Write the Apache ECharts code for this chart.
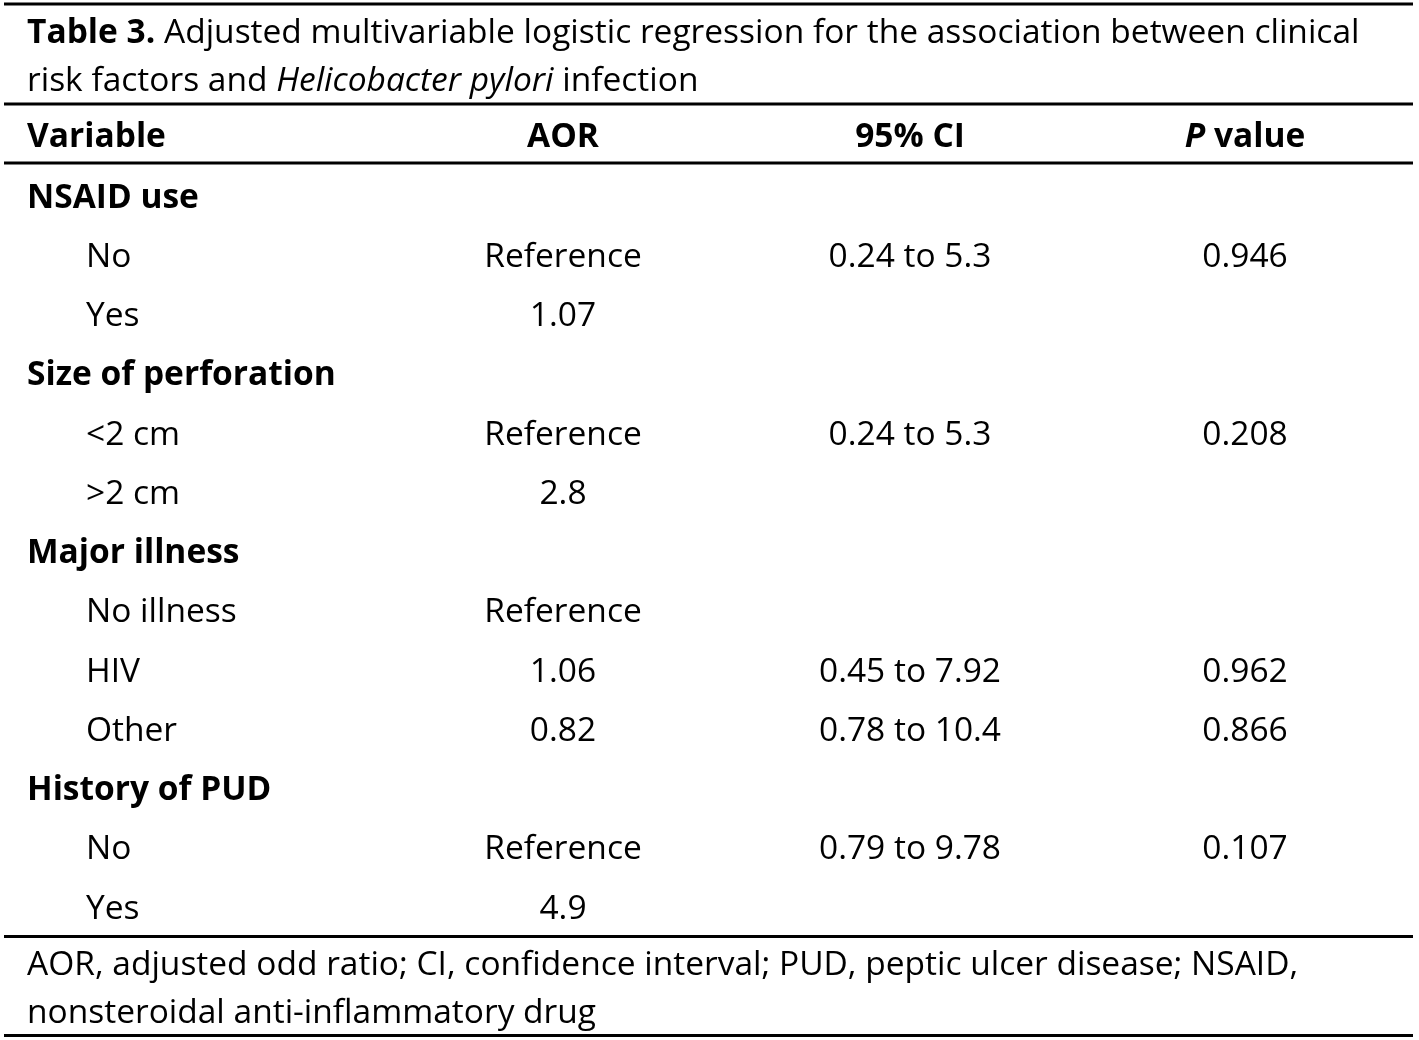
<!DOCTYPE html>
<html>
<head>
<meta charset="utf-8">
<script src="https://cdn.jsdelivr.net/npm/echarts@6/dist/echarts.min.js"></script>
<style>
html, body { margin: 0; padding: 0; background: #fff; }
#table3 { width: 1419px; height: 1040px; }
</style>
</head>
<body>
<div id="table3"></div>
<script>
var titleLines = [
    '{b|Table 3.} Adjusted multivariable logistic regression for the association between clinical',
    'risk factors and {i|Helicobacter pylori} infection'
];
var headers = ['Variable', 'AOR', '95% CI', '{bi|P} value'];
var groups = ['NSAID use', 'Size of perforation', 'Major illness', 'History of PUD'];
var levels = [['No', 'Yes'], ['<2 cm', '>2 cm'], ['No illness', 'HIV', 'Other'], ['No', 'Yes']];
var aorValues = [['Reference', '1.07'], ['Reference', '2.8'], ['Reference', '1.06', '0.82'], ['Reference', '4.9']];
var ciValues = [['0.24 to 5.3', ''], ['0.24 to 5.3', ''], ['', '0.45 to 7.92', '0.78 to 10.4'], ['0.79 to 9.78', '']];
var pValues = [['0.946', ''], ['0.208', ''], ['', '0.962', '0.866'], ['0.107', '']];
var footnote = [
    'AOR, adjusted odd ratio; CI, confidence interval; PUD, peptic ulcer disease; NSAID,',
    'nonsteroidal anti-inflammatory drug'
];

function initTable() {
    var myChart = echarts.init(document.getElementById('table3'));
    var font = '"Open Sans", sans-serif';
    var size = 33.5;
    var rich = {
        b: {fontWeight: 'bold', fontSize: size, fontFamily: font, fill: '#000'},
        i: {fontStyle: 'italic', fontSize: size, fontFamily: font, fill: '#000'},
        bi: {fontStyle: 'italic', fontWeight: 'bold', fontSize: size, fontFamily: font, fill: '#000'}
    };
    var colX = [27, 563, 910, 1245];
    var indentX = 86;
    var dy = 3; // nudge: Open Sans sits a bit high with middle alignment
    var rowTop = 195 + dy, rowStep = 59.25;
    var els = [];

    function text(str, x, y, align, bold) {
        els.push({
            type: 'text',
            x: x, y: y,
            style: {
                text: str,
                fontFamily: font,
                fontSize: size,
                fontWeight: bold ? 'bold' : 'normal',
                fill: '#000',
                align: align || 'left',
                verticalAlign: 'middle',
                rich: rich
            }
        });
    }
    function rule(y) {
        els.push({
            type: 'line',
            shape: {x1: 4, y1: y, x2: 1413, y2: y},
            style: {stroke: '#000', lineWidth: 3}
        });
    }

    rule(4);
    titleLines.forEach(function (t, i) { text(t, 27, 30 + dy + i * 48); });
    rule(104);
    headers.forEach(function (h, i) { text(h, colX[i], 134 + dy, i === 0 ? 'left' : 'center', true); });
    rule(163);

    var row = 0;
    groups.forEach(function (g, gi) {
        text(g, colX[0], rowTop + row * rowStep, 'left', true);
        row++;
        levels[gi].forEach(function (lv, li) {
            var y = rowTop + row * rowStep;
            text(lv, indentX, y, 'left');
            text(aorValues[gi][li], colX[1], y, 'center');
            text(ciValues[gi][li], colX[2], y, 'center');
            text(pValues[gi][li], colX[3], y, 'center');
            row++;
        });
    });

    rule(936.5);
    footnote.forEach(function (t, i) { text(t, 27, 962 + dy + i * 48); });
    rule(1035.5);

    myChart.setOption({
        animation: false,
        graphic: {elements: els}
    });
}
initTable();
</script>
</body>
</html>
